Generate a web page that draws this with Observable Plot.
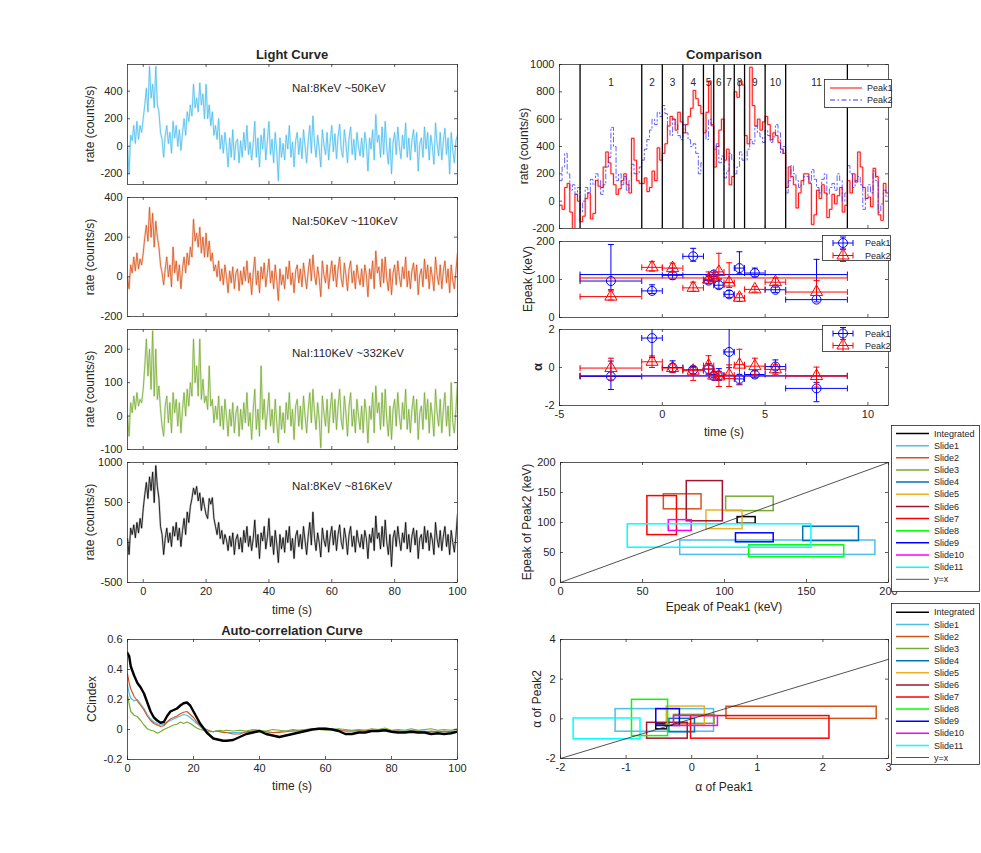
<!DOCTYPE html>
<html><head><meta charset="utf-8">
<script src="https://cdn.jsdelivr.net/npm/d3@7"></script>
<script src="https://cdn.jsdelivr.net/npm/@observablehq/plot@0.6"></script>
<style>
body{margin:0;background:#fff;font-family:"Liberation Sans",Arial,Helvetica,sans-serif;}
#page{position:relative;width:981px;height:853px;overflow:hidden;background:#fff;}
.t{position:absolute;white-space:nowrap;color:#262626;line-height:1;}
</style></head><body><div id="page"></div>
<script>
// ================= DATA =================
const LC_T0 = -5, LC_DT = 0.5;
const bandLabels = ["NaI:8KeV ~50KeV","NaI:50KeV ~110KeV","NaI:110KeV ~332KeV","NaI:8KeV ~816KeV"];
const lcSoft = [0,-200,80,40,150,20,180,50,150,100,
200,300,420,250,580,350,450,280,580,300,
250,100,50,-80,80,150,20,100,-50,180,
60,150,0,120,-30,100,200,80,250,180,
300,220,450,280,350,250,460,300,380,200,
450,200,300,150,250,80,150,50,200,-20,
80,-50,100,0,-150,60,-80,120,-100,30,
50,-120,40,-80,100,-30,150,-60,30,-100,
20,180,-80,60,-150,80,-20,130,-100,40,
180,-60,50,-120,100,-40,-250,60,-80,20,
-100,80,-20,150,-80,30,-150,40,100,-60,
60,-90,120,0,-120,40,150,-50,220,20,
-80,80,-20,-150,120,10,-60,100,-100,40,
150,-40,90,-90,70,160,-20,-80,120,20,
-120,60,140,-60,50,-100,100,0,-70,60,
-80,100,20,-180,60,-20,120,-100,230,30,
80,-80,140,-60,180,-20,-130,60,-200,30,
100,-60,140,0,-90,80,-20,170,-80,60,
-100,40,120,-40,100,-180,20,60,-80,140,
-20,100,-100,80,0,-130,170,20,-70,100,
-100,40,130,-60,60,-200,100,-30,-120,40,
80];
const lcMid = [0,-60,60,20,100,30,120,40,90,60,
120,200,260,180,350,200,320,150,280,200,
150,60,20,-40,40,100,0,60,-50,150,
20,80,-20,60,-60,40,100,20,120,60,
150,100,290,180,220,150,250,120,200,100,
220,100,180,80,120,30,60,0,80,-20,
40,-40,60,0,-80,30,-30,50,-60,20,
40,-70,30,-40,50,-20,80,-30,20,-90,
20,100,-40,30,-80,50,-10,70,-50,20,
90,-30,30,-60,60,-20,-120,40,-40,10,
-60,50,-10,80,-40,20,-80,30,60,-30,
40,-50,70,0,-60,30,90,-20,110,10,
-40,50,-10,-100,80,10,-30,60,-60,20,
80,-20,60,-50,40,100,-10,-50,70,10,
-70,40,80,-30,30,-60,60,0,-40,40,
-50,60,10,-100,40,-10,80,-60,130,20,
50,-50,90,-30,100,-10,-70,40,-90,20,
60,-40,80,0,-50,50,-10,100,-50,30,
-60,30,70,-20,60,-90,10,40,-50,90,
-10,60,-60,50,0,-70,100,10,-40,60,
-60,30,80,-30,40,-80,60,-20,-60,30,
120];
const lcHard = [0,-60,40,10,60,20,70,30,50,40,
80,150,230,120,200,80,255,60,200,50,
90,20,-30,-60,30,60,-20,40,-50,70,
10,50,-30,40,-50,20,70,0,80,30,
100,60,230,100,150,60,230,50,110,40,
60,20,150,30,50,-20,30,-10,60,-30,
30,-40,50,0,-60,20,-30,40,-50,10,
30,-60,20,-40,40,-20,70,-30,10,-70,
20,80,-40,20,-60,150,-10,50,-40,10,
70,-30,20,-50,50,-20,-80,30,-40,10,
-50,40,-10,70,-30,20,-70,30,50,-30,
30,-40,60,0,-50,20,70,-20,80,10,
-40,40,-10,-95,60,10,-30,50,-50,20,
70,-20,50,-40,30,80,-10,-40,60,10,
-60,30,70,-30,20,-50,50,0,-40,30,
-50,50,10,-80,30,-10,70,-50,90,10,
40,-40,70,-30,80,-10,-60,30,-70,20,
50,-30,70,0,-40,40,-10,80,-40,20,
-50,20,60,-20,50,-70,10,30,-40,70,
-10,50,-50,40,0,-60,80,10,-30,50,
-50,20,70,-30,30,-60,100,-20,-50,20,
100];
const lcAll = [50,-150,180,100,220,60,250,120,300,180,
420,600,750,550,820,650,880,500,960,700,
550,200,100,-150,50,180,0,120,-50,200,
80,250,30,180,-50,150,300,100,380,250,
450,550,680,600,700,520,620,400,560,450,
350,300,550,480,560,300,200,100,250,50,
150,-20,100,30,-100,80,-50,120,-150,40,
100,-80,60,-120,150,0,200,-50,80,-100,
50,280,-60,100,-200,120,20,200,-80,60,
300,-50,80,-150,150,-20,-250,100,-80,60,
-120,150,0,200,-100,50,-200,80,150,-50,
100,-80,200,20,-150,80,250,-30,380,50,
-100,120,0,-180,180,30,-50,150,-120,80,
200,-30,150,-100,100,220,0,-80,180,50,
-150,100,200,-50,80,-120,150,20,-60,100,
-80,150,50,-200,100,0,180,-100,330,50,
120,-80,200,-50,280,0,-150,100,-300,60,
150,-50,200,30,-100,120,0,250,-80,100,
-120,80,180,-30,150,-200,50,100,-80,200,
0,150,-100,120,30,-150,250,50,-60,150,
-100,80,200,-50,100,-150,150,0,-120,80,
350];

const acfT = [0,0.5,1,2,3,4,5,6,7,8,9,10,11,12,13,14,15,16,17,18,19,20,21,22,23,24,25,26,27,28,29,30,
32,34,36,38,40,42,44,46,48,50,52,54,56,58,60,62,64,66,68,70,72,74,76,78,80,82,84,86,88,90,92,94,96,98,100];
const acfSoft = [0.30,0.24,0.21,0.19,0.2,0.17,0.14,0.1,0.07,0.05,0.04,0.03,0.035,0.05,0.06,0.07,0.08,0.09,0.1,0.095,0.08,0.06,0.04,0.02,0.0,-0.01,-0.015,-0.015,-0.01,-0.015,-0.015,-0.02,
-0.02,-0.02,-0.015,-0.01,-0.01,-0.015,-0.02,-0.015,-0.01,-0.01,-0.005,0.0,0.005,0.01,0.01,0.005,0.0,-0.01,-0.01,-0.005,-0.01,-0.005,-0.005,0.0,-0.01,-0.01,-0.01,-0.005,-0.01,-0.01,-0.015,-0.01,-0.015,-0.01,-0.01];
const acfMid = [0.37,0.31,0.27,0.22,0.19,0.16,0.13,0.09,0.06,0.04,0.03,0.02,0.025,0.05,0.07,0.08,0.09,0.105,0.115,0.12,0.1,0.08,0.05,0.03,0.01,0.0,-0.01,-0.015,-0.01,-0.015,-0.02,-0.02,
-0.03,-0.03,-0.015,-0.01,-0.01,-0.015,-0.02,-0.02,-0.015,-0.01,-0.01,-0.005,0.0,0.0,0.005,0.0,-0.005,-0.01,-0.01,-0.01,-0.005,-0.01,-0.005,0.0,-0.01,-0.01,-0.015,-0.01,-0.01,-0.015,-0.01,-0.015,-0.01,-0.015,-0.01];
const acfHard = [0.23,0.17,0.12,0.095,0.085,0.06,0.03,0.005,-0.005,-0.01,-0.025,-0.015,0.0,0.01,0.02,0.03,0.035,0.05,0.04,0.05,0.04,0.025,0.01,0.0,-0.005,-0.01,-0.01,-0.015,-0.01,-0.005,-0.01,-0.005,
-0.01,-0.005,-0.01,0.0,-0.005,-0.01,0.0,-0.005,-0.01,0.0,-0.005,0.0,0.005,0.0,-0.005,0.0,0.005,0.0,-0.005,0.0,-0.005,0.005,0.0,0.01,-0.005,0.0,-0.005,0.005,-0.005,0.0,0.005,-0.005,0.0,-0.005,0.005];
const acfAll = [0.51,0.49,0.42,0.36,0.31,0.28,0.24,0.18,0.12,0.08,0.06,0.045,0.05,0.09,0.12,0.13,0.14,0.16,0.175,0.18,0.16,0.12,0.08,0.04,0.01,-0.02,-0.04,-0.06,-0.065,-0.07,-0.075,-0.075,
-0.07,-0.05,-0.03,-0.02,-0.01,-0.03,-0.04,-0.05,-0.04,-0.03,-0.02,-0.01,0.0,0.005,0.005,0.0,-0.01,-0.03,-0.03,-0.02,-0.02,-0.01,-0.01,-0.005,-0.015,-0.02,-0.02,-0.015,-0.02,-0.02,-0.03,-0.025,-0.03,-0.025,-0.015];

const CMP_T0 = -5, CMP_DT = 0.125;
const cmpPeak1 = [-30,-60,100,130,-80,-200,50,0,
-150,-110,20,60,-130,-90,150,110,
100,250,360,280,200,120,50,90,
150,200,120,60,460,300,150,130,
130,170,70,100,220,150,390,300,
350,420,550,620,600,520,650,580,
500,560,620,680,810,750,700,640,
500,650,880,560,250,400,520,600,
300,380,120,180,800,760,880,850,
480,420,980,700,550,600,520,580,
620,560,450,500,480,430,380,350,
100,250,180,120,-50,60,150,200,
200,130,-170,-100,80,20,120,60,
-120,-60,50,-20,40,100,-80,-30,
150,60,200,140,360,250,100,20,
30,-40,240,180,-100,-140,130,60];
const cmpPeak2 = [150,250,350,200,80,120,50,100,
-80,0,100,60,160,120,200,150,
50,120,250,320,540,400,150,200,
120,180,80,150,270,200,200,250,
300,380,450,520,600,560,650,620,
700,640,520,480,600,560,480,450,
560,500,450,400,420,350,200,280,
520,450,600,550,380,420,280,330,
170,220,350,300,200,250,360,300,
300,380,450,420,550,500,470,430,
520,480,430,470,560,500,350,400,
60,150,260,200,150,100,120,180,
180,140,230,160,100,60,160,200,
50,100,130,80,200,150,0,60,
260,200,100,150,180,120,-60,20,
120,60,220,150,-80,-20,80,30];
const sliceBounds = [-4,-1,0,1,2,2.5,3,3.5,4,5,6,9];
const sliceLabels = ["1","2","3","4","5","6","7","8","9","10","11"];

const seriesNames = ["Integrated","Slide1","Slide2","Slide3","Slide4","Slide5","Slide6","Slide7","Slide8","Slide9","Slide10","Slide11"];
const seriesColors = ["#000000","#4DBEEE","#D95319","#77AC30","#0072BD","#EDB120","#A2142F","#FF0000","#00FF00","#0000FF","#FF00FF","#00FFFF"];
const tStart = [-4,-4,-1,0,1,2,2.5,3,3.5,4,5,6];
const tEnd   = [9,-1,0,1,2,2.5,3,3.5,4,5,6,9];
const ep1   = [113,96,70,111,161,97,85,61,130,117,73,47];
const ep1Lo = [108,73,63,101,148,89,77,53,115,107,66,41];
const ep1Hi = [119,192,86,130,182,111,99,71,173,130,80,153];
const ep2   = [104,55,132,130,78,100,120,92,52,74,93,67];
const ep2Lo = [98,46,122,119,69,89,102,79,42,67,86,58];
const ep2Hi = [109,70,147,143,93,120,169,144,62,82,104,97];
const al1   = [-0.45,-0.47,1.55,0.0,-0.12,-0.08,-0.42,0.82,-0.6,-0.37,0.05,-1.1];
const al1Lo = [-0.54,-1.16,0.53,-0.27,-0.34,-0.38,-0.68,-0.01,-0.91,-0.54,-0.27,-1.8];
const al1Hi = [-0.37,0.34,2.82,0.35,0.05,0.2,-0.06,2.1,-0.36,-0.18,0.4,-0.78];
const al2   = [-0.43,-0.03,0.3,-0.03,-0.17,0.1,-0.47,-0.4,0.15,0.07,-0.1,-0.45];
const al2Lo = [-0.53,-0.65,0.0,-0.25,-0.68,-0.33,-1.0,-1.0,-0.87,-0.36,-0.36,-1.03];
const al2Hi = [-0.28,0.49,0.61,0.2,0.0,0.62,-0.2,0.14,0.96,0.49,0.14,0.02];
const yxEpeak = [0,200];
const yxAlpha = [-2,3];

// ================= HELPERS =================
const FONT = '"Liberation Sans", Arial, Helvetica, sans-serif';
const INK = "#262626";
const page = document.getElementById("page");

function addText(txt, x, y, {size=12, weight="normal", rotate=false, anchor="middle"}={}) {
  const d = document.createElement("div");
  d.className = "t"; d.textContent = txt;
  d.style.fontSize = size + "px"; d.style.fontWeight = weight; d.style.fontFamily = FONT;
  d.style.left = x + "px"; d.style.top = y + "px";
  if (rotate) {
    d.style.transformOrigin = "0 0";
    d.style.transform = "rotate(-90deg) translate(-50%,-50%)";
  } else {
    d.style.transform = `translate(${anchor === "start" ? "0" : "-50%"},-50%)`;
  }
  page.appendChild(d);
}

function panel(o) {
  const mL = 45, mR = 10, mT = 10, mB = 24;
  const {left, top, w, h} = o;
  const tk = 3;
  const tickStyle = {stroke: INK, strokeWidth: 0.75};
  const marks = [
    ...o.marks,
    Plot.frame({stroke: INK, strokeWidth: 0.75}),
    Plot.tickX(o.xticks, {x: d => d, insetTop: h - tk, ...tickStyle}),
    Plot.tickX(o.xticks, {x: d => d, insetBottom: h - tk, ...tickStyle}),
    Plot.tickY(o.yticks, {y: d => d, insetRight: w - tk, ...tickStyle}),
    Plot.tickY(o.yticks, {y: d => d, insetLeft: w - tk, ...tickStyle}),
    Plot.axisX(o.xticks, {tickSize: 0, tickPadding: 5, label: null, fill: INK,
      tickFormat: o.xlabels === false ? () => "" : d => String(d)}),
    Plot.axisY(o.yticks, {tickSize: 0, tickPadding: 5, label: null, fill: INK, tickFormat: d => String(d)})
  ];
  const svg = Plot.plot({
    width: w + mL + mR, height: h + mT + mB,
    marginLeft: mL, marginRight: mR, marginTop: mT, marginBottom: mB,
    x: {domain: o.x}, y: {domain: o.y},
    color: {type: "identity"},
    style: {fontFamily: FONT, fontSize: "11px", color: INK, background: "transparent", overflow: "visible"},
    marks
  });
  svg.style.position = "absolute";
  svg.style.left = (left - mL) + "px";
  svg.style.top = (top - mT) + "px";
  page.appendChild(svg);
}

const capV = {draw(ctx, size) { const r = Math.sqrt(size / Math.PI); ctx.moveTo(0, -r); ctx.lineTo(0, r); }};
const capH = {draw(ctx, size) { const r = Math.sqrt(size / Math.PI); ctx.moveTo(-r, 0); ctx.lineTo(r, 0); }};
const idx = d3.range(seriesNames.length);
const tMid = i => (tStart[i] + tEnd[i]) / 2;

function errMarks(v, lo, hi, color, symbol) {
  const s = {stroke: color, strokeWidth: 1, clip: true};
  return [
    Plot.ruleY(idx, {y: i => v[i], x1: i => tStart[i], x2: i => tEnd[i], ...s}),
    Plot.ruleX(idx, {x: tMid, y1: i => lo[i], y2: i => hi[i], ...s}),
    Plot.dot(idx, {x: i => tStart[i], y: i => v[i], symbol: capV, r: 3, ...s}),
    Plot.dot(idx, {x: i => tEnd[i], y: i => v[i], symbol: capV, r: 3, ...s}),
    Plot.dot(idx, {x: tMid, y: i => lo[i], symbol: capH, r: 3, ...s}),
    Plot.dot(idx, {x: tMid, y: i => hi[i], symbol: capH, r: 3, ...s}),
    Plot.dot(idx, {x: tMid, y: i => v[i], symbol, r: 4.5, fill: "none", ...s})
  ];
}

function legendBox(left, top, w, h, items, {y0, dy, x1 = 6, x2 = 38, tx = 44, fs = 9.5}) {
  const svg = d3.create("svg").attr("width", w).attr("height", h)
    .style("position", "absolute").style("left", left + "px").style("top", top + "px")
    .style("font-family", FONT).style("font-size", fs + "px").style("overflow", "visible");
  svg.append("rect").attr("x", 0.5).attr("y", 0.5).attr("width", w - 1).attr("height", h - 1)
    .attr("fill", "#fff").attr("stroke", INK).attr("stroke-width", 0.8);
  items.forEach((it, i) => {
    const y = y0 + i * dy;
    const g = svg.append("g").attr("stroke", it.stroke).attr("fill", "none").attr("stroke-width", it.width || 1);
    if (it.err) {
      const cx = (x1 + x2) / 2;
      g.append("line").attr("x1", x1).attr("x2", x2).attr("y1", y).attr("y2", y);
      g.append("line").attr("x1", x1).attr("x2", x1).attr("y1", y - 3).attr("y2", y + 3);
      g.append("line").attr("x1", x2).attr("x2", x2).attr("y1", y - 3).attr("y2", y + 3);
      g.append("line").attr("x1", cx).attr("x2", cx).attr("y1", y - 6).attr("y2", y + 6);
      g.append("line").attr("x1", cx - 3).attr("x2", cx + 3).attr("y1", y - 6).attr("y2", y - 6);
      g.append("line").attr("x1", cx - 3).attr("x2", cx + 3).attr("y1", y + 6).attr("y2", y + 6);
      g.append("path").attr("transform", `translate(${cx},${y})`)
        .attr("d", d3.symbol(it.err === "circle" ? d3.symbolCircle : d3.symbolTriangle, Math.PI * 4.5 * 4.5)());
    } else {
      g.append("line").attr("x1", x1).attr("x2", x2).attr("y1", y).attr("y2", y)
        .attr("stroke-dasharray", it.dash || null);
    }
    svg.append("text").attr("x", tx).attr("y", y).attr("dy", "0.35em").attr("fill", INK).text(it.label);
  });
  page.appendChild(svg.node());
}

// ================= LEFT COLUMN =================
const lcSpecs = [
  {vals: lcSoft, color: "#4DBEEE", top: 64, h: 120, y: [-278, 594], yticks: [-200, 0, 200, 400]},
  {vals: lcMid, color: "#D95319", top: 197, h: 119, y: [-200, 400], yticks: [-200, 0, 200, 400]},
  {vals: lcHard, color: "#77AC30", top: 329, h: 120, y: [-100, 259], yticks: [-100, 0, 100, 200]},
  {vals: lcAll, color: "#000000", top: 462, h: 120, y: [-500, 1000], yticks: [-500, 0, 500, 1000]}
];
lcSpecs.forEach((s, k) => {
  const data = s.vals.map((v, i) => ({t: LC_T0 + i * LC_DT, v}));
  panel({
    left: 127, top: s.top, w: 330, h: s.h, x: [-5, 100], y: s.y,
    xticks: [0, 20, 40, 60, 80, 100], yticks: s.yticks, xlabels: k === 3,
    marks: [
      Plot.line(data, {x: "t", y: "v", stroke: s.color, strokeWidth: 2.2, strokeOpacity: 0.22, clip: true}),
      Plot.line(data, {x: "t", y: "v", stroke: s.color, strokeWidth: 0.8, clip: true})
    ]
  });
  addText("rate (counts/s)", 90, s.top + s.h / 2, {size: 12, rotate: true});
  addText(bandLabels[k], 292, s.top + 25, {size: 11.5, anchor: "start"});
});
addText("Light Curve", 292, 54, {size: 13, weight: "bold"});
addText("time (s)", 292, 610, {size: 12});

const acfData = [
  {vals: acfSoft, color: "#4DBEEE", w: 1.2},
  {vals: acfMid, color: "#D95319", w: 1.2},
  {vals: acfHard, color: "#77AC30", w: 1.2},
  {vals: acfAll, color: "#000000", w: 2.4}
];
panel({
  left: 127, top: 639, w: 330, h: 120, x: [0, 100], y: [-0.2, 0.6],
  xticks: [0, 20, 40, 60, 80, 100], yticks: [-0.2, 0, 0.2, 0.4, 0.6],
  marks: acfData.map(s => Plot.line(s.vals.map((v, i) => ({t: acfT[i], v})),
    {x: "t", y: "v", stroke: s.color, strokeWidth: s.w, clip: true}))
});
addText("Auto-correlation Curve", 292, 630, {size: 13, weight: "bold"});
addText("CCindex", 92, 699, {size: 12, rotate: true});
addText("time (s)", 292, 786, {size: 12});

// ================= RIGHT COLUMN =================
function stepData(vals) {
  const d = vals.map((v, i) => ({t: CMP_T0 + i * CMP_DT, v}));
  d.push({t: CMP_T0 + vals.length * CMP_DT, v: vals[vals.length - 1]});
  return d;
}
const sliceMid = sliceLabels.map((l, i) => ({lab: l, t: (sliceBounds[i] + sliceBounds[i + 1]) / 2}));
panel({
  left: 559, top: 64, w: 329, h: 164, x: [-5, 11], y: [-200, 1000],
  xticks: [-5, 0, 5, 10], yticks: [-200, 0, 200, 400, 600, 800, 1000], xlabels: false,
  marks: [
    Plot.line(stepData(cmpPeak1), {x: "t", y: "v", curve: "step-after", stroke: "#FF0000", strokeWidth: 2.5, strokeOpacity: 0.15, clip: true}),
    Plot.line(stepData(cmpPeak1), {x: "t", y: "v", curve: "step-after", stroke: "#FF0000", strokeWidth: 0.9, clip: true}),
    Plot.line(stepData(cmpPeak2), {x: "t", y: "v", curve: "step-after", stroke: "#3030FF", strokeWidth: 0.9, strokeOpacity: 0.85, strokeDasharray: "5,2.5,1.5,2.5", clip: true}),
    Plot.ruleX(sliceBounds, {x: d => d, stroke: "#000", strokeWidth: 1.3}),
    Plot.text(sliceMid, {x: "t", frameAnchor: "top", dy: 14, text: "lab", fontSize: 10, fill: INK})
  ]
});
addText("Comparison", 724, 54, {size: 13, weight: "bold"});
addText("rate (counts/s)", 524, 146, {size: 12, rotate: true});
legendBox(824, 79, 68, 29, [
  {label: "Peak1", stroke: "#FF0000"},
  {label: "Peak2", stroke: "#3030FF", dash: "5,2.5,1.5,2.5"}
], {y0: 9, dy: 12, x1: 6, x2: 38, tx: 43, fs: 9});

panel({
  left: 559, top: 241, w: 329, h: 76, x: [-5, 11], y: [0, 200],
  xticks: [-5, 0, 5, 10], yticks: [0, 100, 200], xlabels: false,
  marks: [...errMarks(ep1, ep1Lo, ep1Hi, "#0000FF", "circle"), ...errMarks(ep2, ep2Lo, ep2Hi, "#FF0000", "triangle")]
});
addText("Epeak (keV)", 528, 279, {size: 12, rotate: true});
legendBox(822, 235, 69, 26, [
  {label: "Peak1", stroke: "#0000FF", err: "circle"},
  {label: "Peak2", stroke: "#FF0000", err: "triangle"}
], {y0: 8, dy: 12.5, x1: 11, x2: 31, tx: 43, fs: 9});

panel({
  left: 559, top: 329, w: 329, h: 76, x: [-5, 11], y: [-2, 2],
  xticks: [-5, 0, 5, 10], yticks: [-2, 0, 2],
  marks: [...errMarks(al1, al1Lo, al1Hi, "#0000FF", "circle"), ...errMarks(al2, al2Lo, al2Hi, "#FF0000", "triangle")]
});
addText("α", 537, 367, {size: 13, weight: "bold", rotate: true});
addText("time (s)", 724, 432, {size: 12});
legendBox(822, 325, 69, 27, [
  {label: "Peak1", stroke: "#0000FF", err: "circle"},
  {label: "Peak2", stroke: "#FF0000", err: "triangle"}
], {y0: 8.5, dy: 12, x1: 11, x2: 31, tx: 43, fs: 9});

// scatter Epeak
panel({
  left: 560, top: 462, w: 328, h: 120, x: [0, 200], y: [0, 200],
  xticks: [0, 50, 100, 150, 200], yticks: [0, 50, 100, 150, 200],
  marks: [
    Plot.rect(idx, {x1: i => ep1Lo[i], x2: i => ep1Hi[i], y1: i => ep2Lo[i], y2: i => ep2Hi[i],
      stroke: i => seriesColors[i], fill: "none", strokeWidth: 1.5}),
    Plot.line(yxEpeak, {x: d => d, y: d => d, stroke: INK, strokeWidth: 0.8})
  ]
});
addText("Epeak of Peak2 (keV)", 527, 522, {size: 12, rotate: true});
addText("Epeak of Peak1 (keV)", 724, 607, {size: 12});
const legItems = seriesNames.map((n, i) => ({label: n, stroke: seriesColors[i], width: 1.5}))
  .concat([{label: "y=x", stroke: INK, width: 0.8}]);
legendBox(891, 425, 89, 167, legItems, {y0: 8.5, dy: 12.15, x1: 5, x2: 38, tx: 43, fs: 9});

// scatter alpha
panel({
  left: 560, top: 639, w: 328, h: 119, x: [-2, 3], y: [-2, 4],
  xticks: [-2, -1, 0, 1, 2, 3], yticks: [-2, 0, 2, 4],
  marks: [
    Plot.rect(idx, {x1: i => al1Lo[i], x2: i => al1Hi[i], y1: i => al2Lo[i], y2: i => al2Hi[i],
      stroke: i => seriesColors[i], fill: "none", strokeWidth: 1.5}),
    Plot.line(yxAlpha, {x: d => d, y: d => d, stroke: INK, strokeWidth: 0.8})
  ]
});
addText("α of Peak2", 537, 699, {size: 12, rotate: true});
addText("α of Peak1", 724, 787, {size: 12});
legendBox(891, 603, 89, 162, legItems, {y0: 9.3, dy: 12.1, x1: 5, x2: 38, tx: 43, fs: 9});
</script>
</body></html>
